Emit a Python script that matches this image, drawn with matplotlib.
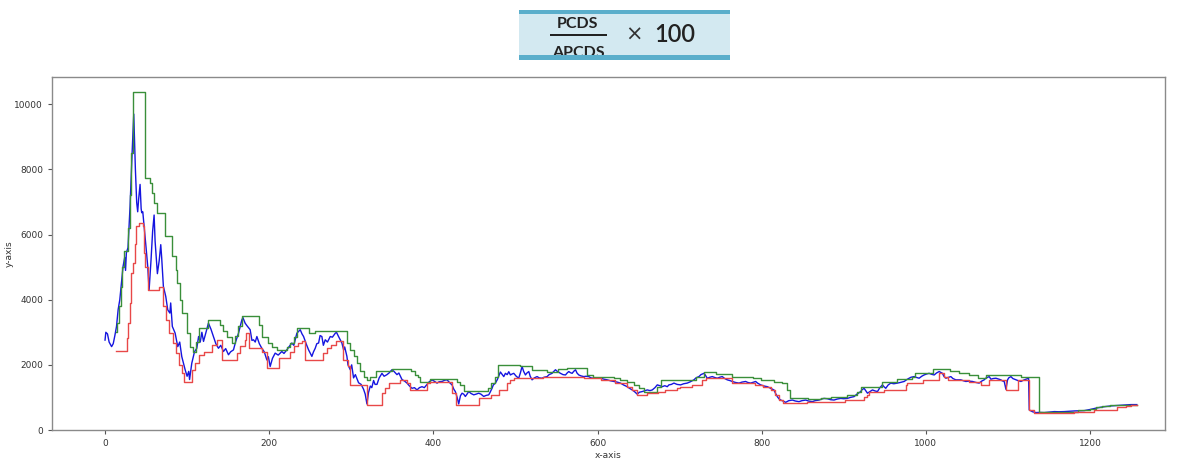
import matplotlib
matplotlib.use("Agg")
import matplotlib.pyplot as plt
from matplotlib.patches import Rectangle

# ---------------- data ----------------
blue_x = [0, 1, 3, 5, 8, 10, 12, 14, 16, 18, 20, 22, 24, 25, 26, 28, 30.5, 33, 35, 37, 38.6, 39.8, 41, 42.7, 44,
          44.7, 46, 48.8, 50, 52, 53.7, 56, 58, 59.8, 61, 63.8, 66, 67.9, 69, 71.1, 74, 76.4, 79, 80, 82, 85.4,
          88.6, 91, 93.5, 97.6, 100, 102, 103, 105.7, 109, 111.8, 114, 116, 118, 120, 123, 126, 129, 132, 135,
          138.2, 141, 144.3, 147, 150.4, 153, 156.5, 159, 162.6, 166.7, 168, 170.7, 173, 176.8, 179, 180.9, 183,
          185, 188, 191, 194, 197.2, 199, 201.2, 204, 207.3, 211, 215.4, 218, 221.5, 224, 227.6, 230, 233.7,
          237.8, 240, 241.9, 245, 248, 252, 254, 256.1, 258, 260.2, 262, 264.2, 266, 268.3, 271, 274.4, 277,
          280.5, 282, 284.5, 286.6, 288.6, 290.7, 292, 294.7, 296, 298.8, 300.5, 302.8, 305, 308.9, 312, 315,
          317, 319.1, 321, 323.2, 325, 327.2, 329, 331.3, 334, 337.4, 340, 343.5, 346, 349.6, 352, 355.7, 358,
          361.8, 365, 367.9, 371, 374, 377, 380.1, 383, 386.2, 389, 392.3, 395, 398.4, 401, 404.5, 407, 410.6,
          414, 416.7, 420, 422.8, 425, 426.8, 429, 430.9, 433, 435, 437, 439, 441, 443.1, 446, 449.2, 452,
          455.3, 458, 461.4, 464, 467.5, 469, 471.5, 473, 475.6, 478, 481.7, 484, 485.8, 487.8, 490, 491.9,
          493.9, 496, 498, 501, 504, 506, 508.1, 510, 512.2, 514, 516.3, 518, 520.3, 523, 526.4, 529, 532.5,
          535, 538.6, 541, 544.7, 546, 548.8, 551, 554.9, 558, 561, 563, 565, 567, 569.1, 571, 573.2, 575,
          577.2, 580, 583.3, 586, 589.4, 592, 595.5, 600, 603.7, 608, 611.8, 616, 619.9, 624, 628, 632, 636.2,
          639, 642.3, 645, 648.4, 651, 654.5, 657, 660.6, 664, 666.7, 670, 672.8, 676, 678.9, 682, 685, 687,
          690, 693.1, 697, 701.2, 705, 709.3, 713, 717.5, 720, 723.6, 726, 729.7, 731, 733.7, 737, 739.8, 743,
          745.9, 749, 752, 755, 758.1, 761, 764.2, 768, 772.4, 776, 780.5, 783, 786.6, 789, 792.7, 795, 798.8,
          803, 806.9, 811, 815, 817, 819.1, 821, 823.2, 826, 829.3, 833, 837.4, 841, 845.5, 849, 853.7, 857,
          861.8, 865, 869.9, 873, 876, 880, 884, 888.2, 892, 896.3, 900, 904.5, 908, 912.6, 916, 920.7, 922,
          924.8, 927, 928.9, 932, 935, 938, 941.1, 944, 947.2, 949, 951.2, 954, 957.3, 961, 965.4, 969, 973.6,
          977, 979.7, 982, 985.8, 989, 991.9, 995, 997.9, 1001, 1004, 1007, 1010.2, 1013, 1016.3, 1018, 1020.3,
          1022, 1024.4, 1027, 1030.5, 1033, 1036.6, 1040, 1042.7, 1046, 1048.8, 1052, 1056.9, 1061, 1065, 1068,
          1071.1, 1073, 1077.2, 1079.3, 1082, 1085.4, 1088, 1091.5, 1093, 1095.5, 1097.6, 1099.6, 1101, 1103.7,
          1106, 1109.8, 1113, 1115.9, 1119, 1122, 1125.2, 1126, 1130, 1134.1, 1139, 1144.3, 1150, 1156.5, 1162,
          1168.7, 1175, 1180.9, 1187, 1193, 1197, 1201.2, 1207, 1213.4, 1219, 1225.6, 1231, 1237.8, 1244, 1250,
          1257]
blue_y = [2760, 3000, 2950, 2700, 2560, 2650, 2900, 3180, 3700, 4000, 4500, 5025, 5300, 4900, 5440, 5600, 6870,
          8500, 9700, 8000, 6980, 6700, 7100, 7540, 6800, 6670, 6700, 5950, 5600, 5030, 4300, 5200, 6100, 6600,
          5800, 4800, 5200, 5690, 5300, 4410, 4100, 3690, 3590, 3900, 3180, 2975, 2560, 2700, 2255, 1850, 1650,
          1800, 1550, 2050, 2400, 2510, 2870, 2700, 3000, 2720, 3000, 3280, 3100, 2870, 2650, 2510, 2600, 2410,
          2500, 2310, 2400, 2460, 2700, 2970, 3380, 3450, 3280, 3200, 3080, 2750, 2770, 2700, 2870, 2650, 2510,
          2400, 2150, 2250, 1950, 2200, 2360, 2300, 2410, 2350, 2460, 2550, 2670, 2600, 2970, 3080, 2950, 2870,
          2650, 2460, 2260, 2400, 2510, 2650, 2670, 2900, 2870, 2600, 2770, 2700, 2870, 2850, 2970, 3000, 2870,
          2770, 2670, 2460, 2550, 2260, 2000, 1850, 2000, 1600, 1700, 1450, 1400, 1250, 1100, 800, 1150, 1350,
          1300, 1520, 1400, 1400, 1600, 1740, 1650, 1700, 1750, 1850, 1800, 1700, 1750, 1550, 1500, 1440, 1350,
          1280, 1300, 1230, 1300, 1330, 1300, 1400, 1480, 1540, 1500, 1440, 1480, 1490, 1530, 1540, 1450, 1385,
          1250, 1180, 1000, 800, 1050, 1130, 1100, 1030, 1100, 1180, 1120, 1080, 1100, 1130, 1100, 1030, 1060,
          1080, 1150, 1280, 1380, 1440, 1550, 1780, 1700, 1640, 1740, 1700, 1790, 1690, 1720, 1740, 1650, 1590,
          1750, 1950, 1800, 1690, 1750, 1795, 1650, 1540, 1600, 1640, 1600, 1590, 1620, 1640, 1700, 1740, 1780,
          1850, 1800, 1740, 1700, 1690, 1750, 1795, 1760, 1740, 1800, 1850, 1750, 1690, 1660, 1640, 1650, 1640,
          1600, 1590, 1600, 1590, 1560, 1540, 1510, 1490, 1470, 1440, 1380, 1330, 1280, 1230, 1180, 1100, 1160,
          1180, 1200, 1230, 1210, 1230, 1300, 1385, 1360, 1330, 1360, 1330, 1385, 1400, 1440, 1400, 1385, 1420,
          1440, 1480, 1540, 1600, 1640, 1700, 1740, 1700, 1590, 1620, 1640, 1610, 1590, 1620, 1640, 1580, 1540,
          1520, 1490, 1460, 1440, 1470, 1490, 1460, 1440, 1460, 1490, 1440, 1385, 1350, 1330, 1280, 1230, 1120,
          1025, 960, 920, 890, 850, 900, 920, 890, 870, 900, 920, 890, 870, 900, 920, 950, 970, 960, 930, 920,
          950, 970, 960, 970, 1000, 1025, 1100, 1180, 1230, 1280, 1200, 1130, 1180, 1230, 1200, 1180, 1300, 1385,
          1330, 1280, 1380, 1440, 1420, 1440, 1460, 1490, 1550, 1590, 1620, 1640, 1610, 1590, 1650, 1690, 1720,
          1740, 1710, 1690, 1750, 1795, 1770, 1740, 1650, 1590, 1610, 1640, 1580, 1540, 1540, 1540, 1510, 1490,
          1500, 1490, 1460, 1440, 1500, 1540, 1590, 1640, 1560, 1580, 1590, 1570, 1540, 1510, 1490, 1250, 1540,
          1600, 1640, 1580, 1540, 1510, 1490, 1530, 1560, 1590, 615, 560, 535, 540, 535, 550, 565, 560, 565, 575,
          585, 590, 595, 615, 635, 670, 700, 720, 740, 750, 760, 770, 780, 780]

# rolling maximum (green) as step levels: level starts at x
green_x = [13, 15, 17, 19, 21, 23, 28, 30, 32, 34.6, 48.8, 54.9, 57, 60, 63, 73, 82, 86, 88, 91, 93.5, 99.6,
           103.7, 107.7, 111, 114.6, 126, 140.2, 144, 148.4, 154.5, 158.5, 162, 166.7, 187, 191, 199, 203.3,
           209.3, 221.5, 225.6, 229.7, 233.7, 248, 256, 294.7, 298, 302.8, 306.9, 311, 315, 319, 323, 330, 350,
           373, 378, 381, 384, 396, 429, 433, 437, 467, 470, 475, 479, 506, 520, 538, 552, 563, 587, 595, 620,
           628, 636, 644, 650, 656.5, 672.8, 676.8, 720, 729.7, 744, 764, 790, 799, 815, 825, 831, 835, 857,
           872, 884, 904, 916, 920.7, 947, 965, 983.7, 987, 1009, 1030, 1040, 1052, 1063, 1073, 1116, 1126,
           1138.3, 1185, 1200, 1207, 1215, 1225, 1235, 1257]
green_y = [3000, 3300, 3800, 4400, 5000, 5500, 6200, 7200, 8500, 10380, 7740, 7590, 7280, 6970, 6650, 5950, 5330,
           4900, 4510, 4000, 3590, 2970, 2560, 2410, 2700, 3130, 3380, 3230, 3030, 2870, 2670, 2900, 3200, 3490,
           3230, 2870, 2670, 2560, 2460, 2560, 2670, 2870, 3130, 2970, 3030, 2670, 2460, 2260, 2050, 1800, 1640,
           1540, 1640, 1800, 1870, 1800, 1700, 1640, 1480, 1560, 1480, 1380, 1200, 1280, 1440, 1640, 2000, 1950,
           1850, 1795, 1870, 1900, 1692, 1641, 1590, 1540, 1480, 1380, 1280, 1180, 1333, 1538, 1640, 1790, 1723,
           1641, 1590, 1538, 1480, 1436, 1230, 974, 940, 974, 1025, 1077, 1180, 1333, 1487, 1560, 1641, 1744,
           1867, 1800, 1744, 1690, 1590, 1692, 1641, 1620, 564, 600, 636, 700, 738, 769, 780, 780]

# rolling minimum (red) as step levels
red_x = [13, 26.8, 28, 30, 32, 34, 36, 38, 41, 46, 47, 49, 52.8, 66.3, 70.1, 74.2, 78.3, 82.3, 86.4, 90.4,
         93.3, 96.5, 105.7, 110, 114, 120, 130, 137, 142.3, 160.5, 165, 170, 172, 176, 191, 197, 211.4, 225.6,
         230, 235, 240, 244, 266, 270, 275, 281.7, 290, 296, 298.8, 319, 337.4, 341, 345.5, 359.8, 368, 372,
         392, 396, 423, 427, 455.3, 470, 480, 490, 494, 498, 533, 583, 604, 621, 636, 642, 648, 660, 674, 682,
         697, 701, 715, 727.6, 732, 764, 792, 802, 811, 816, 821.5, 825.6, 855.3, 902, 924.8, 928, 931, 949,
         975.6, 977.6, 996, 1016.3, 1022, 1026.5, 1053, 1067, 1077, 1097.6, 1112, 1126, 1132, 1138, 1152,
         1181, 1205, 1233, 1244, 1250, 1257]
red_y = [2440, 2820, 3300, 3900, 4820, 5130, 5700, 6256, 6360, 6256, 5440, 5000, 4308, 4400, 3795, 3385, 2974,
         2667, 2359, 2000, 1744, 1487, 1846, 2051, 2308, 2410, 2615, 2769, 2154, 2359, 2564, 2769, 2974, 2513,
         2410, 1897, 2205, 2410, 2564, 2667, 2718, 2154, 2359, 2513, 2615, 2718, 2154, 1950, 1385, 769, 1128,
         1282, 1436, 1538, 1436, 1230, 1436, 1460, 1128, 769, 974, 1077, 1230, 1436, 1538, 1590, 1641, 1590,
         1538, 1436, 1333, 1230, 1077, 1128, 1180, 1230, 1282, 1333, 1385, 1538, 1590, 1436, 1385, 1333, 1230,
         1077, 923, 820, 871, 923, 1025, 1077, 1180, 1230, 1385, 1436, 1538, 1744, 1640, 1538, 1487, 1385,
         1538, 1230, 1538, 615, 535, 513, 535, 564, 615, 718, 740, 769, 769]

x_ticks = [0, 200, 400, 600, 800, 1000, 1200]
y_ticks = [0, 2000, 4000, 6000, 8000, 10000]

# ---------------- figure ----------------
W, H = 1182, 458
fig = plt.figure(figsize=(W / 100, H / 100), dpi=100)
fig.patch.set_facecolor("white")


def fx(px):
    return px / W


def fy(py):
    return 1 - py / H


# formula banner at the top
fig.patches.append(Rectangle((fx(519), fy(57)), fx(730) - fx(519), fy(12) - fy(57),
                             transform=fig.transFigure, facecolor="#d3e9f1", edgecolor="none", zorder=0))
fig.patches.append(Rectangle((fx(519), fy(14)), fx(730) - fx(519), fy(10) - fy(14),
                             transform=fig.transFigure, facecolor="#5aaecb", edgecolor="none", zorder=1))
fig.patches.append(Rectangle((fx(519), fy(60)), fx(730) - fx(519), fy(55) - fy(60),
                             transform=fig.transFigure, facecolor="#5aaecb", edgecolor="none", zorder=5))
fig.patches.append(Rectangle((fx(550), fy(36)), fx(607) - fx(550), fy(34) - fy(36),
                             transform=fig.transFigure, facecolor="#222222", edgecolor="none", zorder=2))
fig.text(fx(578), fy(24), "PCDS", ha="center", va="center", fontsize=11.5, fontweight="bold",
         family="Lato", color="#222222", zorder=2)
fig.text(fx(578), fy(53), "APCDS", ha="center", va="center", fontsize=11.5, fontweight="bold",
         family="Lato", color="#222222", zorder=2)
fig.text(fx(634), fy(35), "×", ha="center", va="center", fontsize=15, family="DejaVu Sans",
         color="#333333", zorder=2)
fig.text(fx(675), fy(35), "100", ha="center", va="center", fontsize=17, family="Lato",
         fontweight="semibold", color="#222222", zorder=2)

# main axes
ax = fig.add_axes([fx(52), fy(430), fx(1165) - fx(52), fy(77) - fy(430)])
ax.plot(blue_x, blue_y, color="#1515e0", lw=1.0)
ax.plot(green_x, green_y, color="#3a8f3a", lw=1.0, drawstyle="steps-post")
ax.plot(red_x, red_y, color="#e84848", lw=1.0, drawstyle="steps-post")

ax.set_xlim(-64.6, 1291.4)
ax.set_ylim(0, 10838)
ax.set_xticks(x_ticks)
ax.set_yticks(y_ticks)
ax.tick_params(labelsize=6.5, colors="#555555", length=3, width=0.8, labelcolor="#333333")
for s in ax.spines.values():
    s.set_color("#8a8a8a")
    s.set_linewidth(1.0)
ax.set_xlabel("x-axis", fontsize=6.5, color="#333333", labelpad=2)
ax.set_ylabel("y-axis", fontsize=6.5, color="#333333")
ax.yaxis.set_label_coords((14 - 52) / (1165 - 52), 0.5)

fig.savefig("out.png", dpi=100)
